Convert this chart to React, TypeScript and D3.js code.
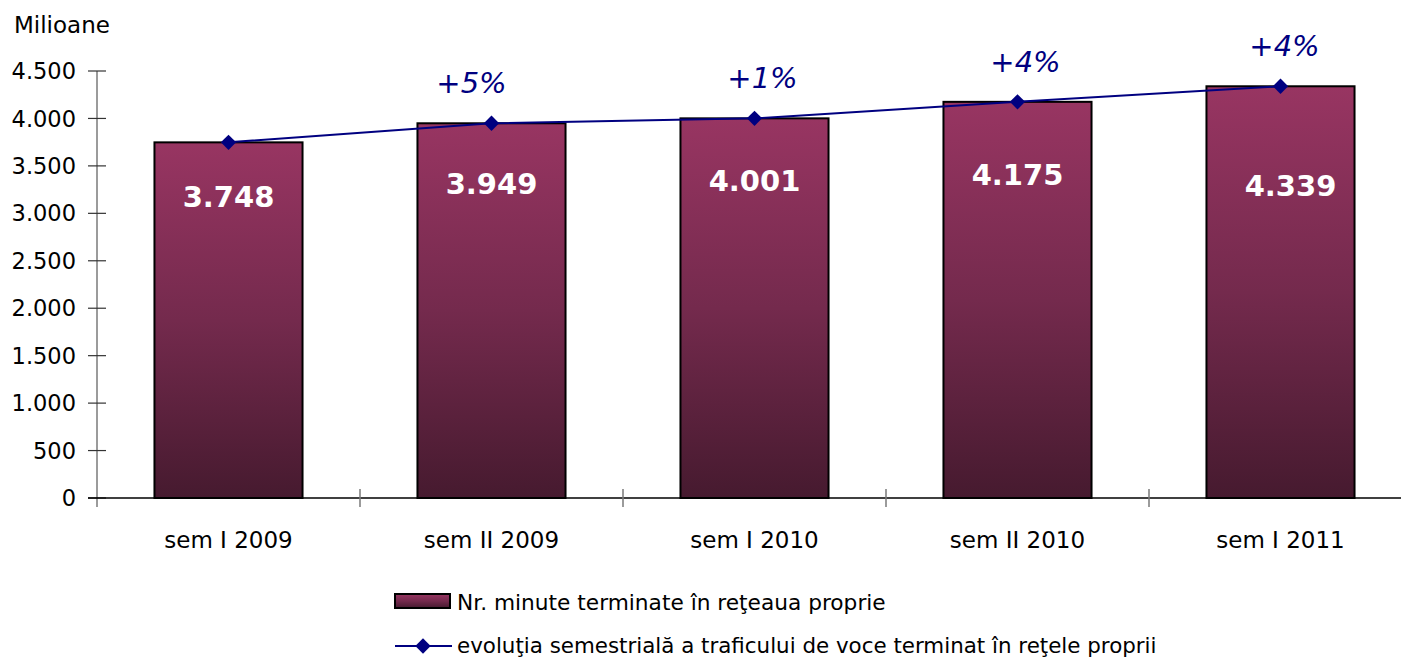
import React from "react";
import * as d3 from "d3";

const categories = ["sem I 2009", "sem II 2009", "sem I 2010", "sem II 2010", "sem I 2011"];
const minutes = [3748, 3949, 4001, 4175, 4339];
const valueLabels = ["3.748", "3.949", "4.001", "4.175", "4.339"];
const growthLabels = ["", "+5%", "+1%", "+4%", "+4%"];
const yTicks = [0, 500, 1000, 1500, 2000, 2500, 3000, 3500, 4000, 4500];
const yTickLabels = ["0", "500", "1.000", "1.500", "2.000", "2.500", "3.000", "3.500", "4.000", "4.500"];
const unitLabel = "Milioane";
const barLegend = "Nr. minute terminate în reţeaua proprie";
const lineLegend = "evoluţia semestrială a traficului de voce terminat în reţele proprii";

// layout-only label offsets (below bar top), as placed in the original
const labelDy = [65, 71, 73, 83, 110];

const FONT = "'DejaVu Sans', Verdana, sans-serif";

export default function App() {
  const W = 1401, H = 657;
  const x = d3.scaleBand<string>().domain(categories).range([97, 1412]).paddingInner(0.437).paddingOuter(0.2185);
  const y = d3.scaleLinear().domain([0, 4500]).range([498, 71]);
  const cx = (c: string) => (x(c) as number) + x.bandwidth() / 2;
  const line = d3.line<number>().x((_, i) => cx(categories[i])).y((d) => y(d));
  const diamond = d3.symbol().type(d3.symbolDiamond2).size(150)() as string;
  const step = x.step();
  const boundaries = categories.slice(1).map((c) => (x(c) as number) - step * 0.437 / 2);

  return (
    <svg width={W} height={H} style={{ position: "absolute", left: 0, top: 0, background: "#fff" }} fontFamily={FONT}>
      <defs>
        <linearGradient id="barGrad" x1="0" y1="0" x2="0" y2="1">
          <stop offset="0" stopColor="#983562" />
          <stop offset="0.5" stopColor="#742a4d" />
          <stop offset="1" stopColor="#461a2f" />
        </linearGradient>
      </defs>
      <text x={14} y={33} fontSize={23} fill="#000">{unitLabel}</text>
      {/* y axis */}
      <line x1={97} x2={97} y1={71} y2={507} stroke="#7a7a7a" strokeWidth={1.5} />
      {yTicks.map((t, i) => (
        <g key={t}>
          <line x1={88} x2={106} y1={y(t)} y2={y(t)} stroke="#333" strokeWidth={1.2} />
          <text x={76} y={y(t)} dy="0.36em" textAnchor="end" fontSize={22.5} fill="#000">{yTickLabels[i]}</text>
        </g>
      ))}
      {/* bars */}
      {minutes.map((v, i) => (
        <rect key={i} x={x(categories[i])} y={y(v)} width={x.bandwidth()} height={y(0) - y(v)} fill="url(#barGrad)" stroke="#000" strokeWidth={2} />
      ))}
      {/* x axis */}
      <line x1={88} x2={W} y1={498} y2={498} stroke="#000" strokeWidth={1.5} />
      {boundaries.map((b, i) => (
        <line key={i} x1={b} x2={b} y1={489} y2={507} stroke="#7a7a7a" strokeWidth={1.5} />
      ))}
      {categories.map((c) => (
        <text key={c} x={cx(c)} y={548} textAnchor="middle" fontSize={23} fill="#000">{c}</text>
      ))}
      {/* value labels */}
      {minutes.map((v, i) => (
        <text key={i} x={cx(categories[i]) + (i === 4 ? 10 : 0)} y={y(v) + labelDy[i]} textAnchor="middle" fontSize={29} fontWeight="bold" fill="#fff">{valueLabels[i]}</text>
      ))}
      {/* line */}
      <path d={line(minutes) as string} fill="none" stroke="#000080" strokeWidth={2} />
      {minutes.map((v, i) => (
        <path key={i} d={diamond} transform={`translate(${cx(categories[i])},${y(v)})`} fill="#000080" />
      ))}
      {growthLabels.map((g, i) => g && (
        <text key={i} x={cx(categories[i]) - (i === 1 ? 20 : i === 4 ? -4 : -8)} y={y(minutes[i]) - 30} textAnchor="middle" fontSize={29} fontStyle="italic" fill="#000080">{g}</text>
      ))}
      {/* legend */}
      <rect x={395} y={594} width={55} height={14} fill="url(#barGrad)" stroke="#000" strokeWidth={2} />
      <text x={457} y={610} fontSize={21.7} fill="#000">{barLegend}</text>
      <line x1={395} x2={452} y1={646} y2={646} stroke="#000080" strokeWidth={2} />
      <path d={diamond} transform="translate(423,646)" fill="#000080" />
      <text x={457} y={653} fontSize={21.4} fill="#000">{lineLegend}</text>
    </svg>
  );
}
